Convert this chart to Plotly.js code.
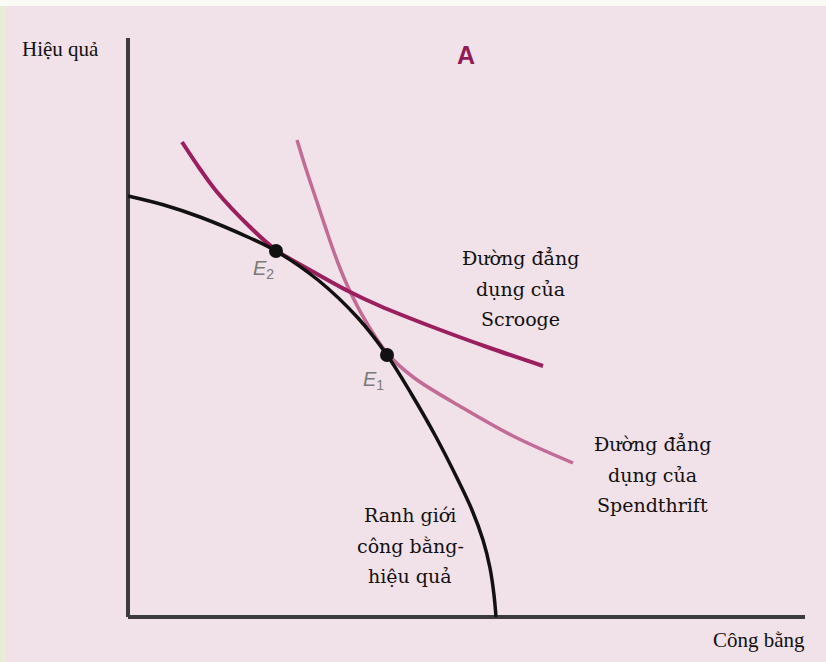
<!DOCTYPE html>
<html>
<head>
<meta charset="utf-8">
<script src="https://cdn.plot.ly/plotly-3.0.1.min.js"></script>
<style>
  html, body { margin: 0; padding: 0; width: 826px; height: 662px; overflow: hidden;
    background: linear-gradient(to bottom, #fafcf4 0px, #fafcf4 6px, #e7edd6 6px); }
  #chart { position: absolute; left: 5px; top: 6px; width: 821px; height: 656px; }
</style>
</head>
<body>
<div id="chart"></div>
<script>
// Frontier (công bằng – hiệu quả)
const frontierX = [0, 36, 72, 122, 148, 190, 230, 259, 284, 308, 329, 344, 355, 362, 366, 368];
const frontierY = [421, 412, 400, 379, 366, 337, 299, 262, 222, 180, 139, 107, 77, 49, 22, 0];

// Scrooge indifference curve
const scroogeX = [54, 72, 89, 122, 148, 182, 220, 252, 302, 362, 415];
const scroogeY = [475, 448, 425, 390, 367, 347, 326, 311, 291, 269, 251];

// Spendthrift indifference curve
const spendX = [169, 178, 189, 200, 210, 220, 237, 259, 285, 335, 385, 445];
const spendY = [477, 448, 415, 382, 354, 330, 297, 264, 240, 209, 181, 154];

// Equilibrium points
const eqNames = ["E2", "E1"];
const eqX = [148, 259];
const eqY = [366, 262];

// Curve labels (one entry per text line)
const scroogeLabel = ["Đường đẳng", "dụng của", "Scrooge"];
const spendLabel = ["Đường đẳng", "dụng của", "Spendthrift"];
const frontierLabel = ["Ranh giới", "công bằng-", "hiệu quả"];

// Axis extents
const axisX = [0, 677];
const axisY = [0, 579];
const xRange = [-4, 677];
const yRange = [-4, 579];

const px = u => (u - xRange[0]) / (xRange[1] - xRange[0]);
const py = v => (v - yRange[0]) / (yRange[1] - yRange[0]);

const traces = [
  { x: spendX, y: spendY, mode: "lines", line: { color: "#c26b96", width: 3.5, shape: "spline", smoothing: 1 }, hoverinfo: "skip" },
  { x: scroogeX, y: scroogeY, mode: "lines", line: { color: "#9b1f5e", width: 4, shape: "spline", smoothing: 1 }, hoverinfo: "skip" },
  { x: frontierX, y: frontierY, mode: "lines", line: { color: "#111111", width: 3.5, shape: "spline", smoothing: 1 }, hoverinfo: "skip" },
  { x: eqX, y: eqY, mode: "markers", marker: { color: "#111111", size: 14 }, text: eqNames, hoverinfo: "text" }
];

function label(text, u, v, font) {
  return { x: px(u), y: py(v), xref: "paper", yref: "paper", xanchor: "center", yanchor: "middle",
    text: text, showarrow: false, font: font };
}
function curveFont() { return { family: "DejaVu Serif", size: 19, color: "#111" }; }
function block(texts, u, vs) { return texts.map((t, i) => label(t, u, vs[i], curveFont())); }

const layout = {
  width: 821, height: 656,
  margin: { l: 119, r: 21, t: 32, b: 41 },
  paper_bgcolor: "#f1e1e8",
  plot_bgcolor: "#f1e1e8",
  showlegend: false,
  xaxis: { range: xRange, showgrid: false, zeroline: false, showticklabels: false, ticks: "", showline: false, fixedrange: true },
  yaxis: { range: yRange, showgrid: false, zeroline: false, showticklabels: false, ticks: "", showline: false, fixedrange: true },
  shapes: [
    { type: "line", layer: "below", xref: "x", yref: "y", x0: axisX[0], y0: axisY[0], x1: axisX[0], y1: axisY[1], line: { color: "#3c3a3e", width: 4 } },
    { type: "line", layer: "below", xref: "x", yref: "y", x0: axisX[0], y0: axisY[0], x1: axisX[1], y1: axisY[0], line: { color: "#3c3a3e", width: 4 } }
  ],
  annotations: [
    label("Hiệu quả", -68, 568, { family: "Liberation Serif", size: 21, color: "#111" }),
    label("Công bằng", 631, -23, { family: "Liberation Serif", size: 21, color: "#111" }),
    label("<b>A</b>", 338, 562, { family: "Liberation Sans", size: 25, color: "#8e1c57" }),
    label("<i>E</i><sub>2</sub>", 135, 348, { family: "Liberation Sans", size: 20, color: "#7a7a7a" }),
    label("<i>E</i><sub>1</sub>", 245, 237, { family: "Liberation Sans", size: 20, color: "#7a7a7a" }),
    ...block(scroogeLabel, 392, [359, 328, 298]),
    ...block(spendLabel, 524, [173, 142, 112]),
    ...block(frontierLabel, 282, [102, 71, 41])
  ]
};

Plotly.newPlot("chart", traces, layout, { staticPlot: true, displayModeBar: false });
</script>
</body>
</html>
